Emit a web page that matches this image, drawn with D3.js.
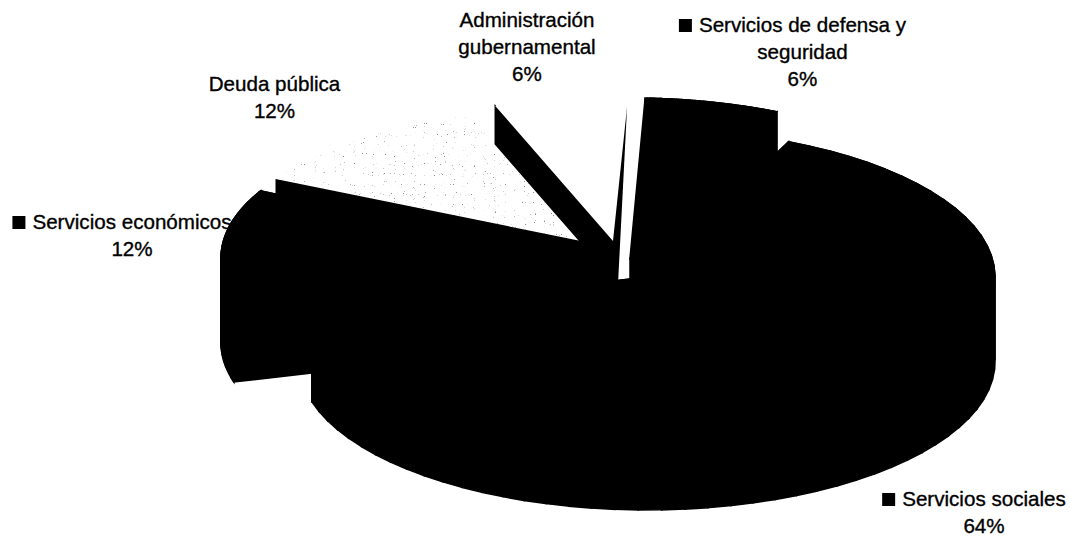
<!DOCTYPE html>
<html>
<head>
<meta charset="utf-8">
<title>Gasto por funciones</title>
<script src="https://cdn.jsdelivr.net/npm/d3@7"></script>
<style>
  html, body { margin: 0; padding: 0; background: #fff; }
  svg { display: block; }
  text { font-family: "Liberation Sans", Arial, sans-serif; font-size: 20.6px; fill: #000; stroke: #000; stroke-width: 0.35px; }
</style>
</head>
<body>
<div id="chart"></div>
<script>
// data
const categories = ["Servicios sociales", "Servicios económicos", "Deuda pública", "Administración gubernamental", "Servicios de defensa y seguridad"];
const shares = [64, 12, 12, 6, 6];
const hasKey = [true, true, false, false, true];

// each slice is pulled out by hand, like the exploded 3d pie in the picture
const firstAngle = 24 * Math.PI / 180;
const sliceApexX = [647, 570, 582, 613, 630];
const sliceApexY = [277, 258, 242, 241, 258];
const sliceRadiusX = [348, 349, 345, 358, 361];
const sliceRadiusY = [148, 145, 134, 143, 160];
const sliceDepth = [85, 85, 40, 38, 48];

// label lines: x, baseline of the first line
const labelLines = [
    ["Servicios sociales"],
    ["Servicios económicos"],
    ["Deuda pública"],
    ["Administración", "gubernamental"],
    ["Servicios de defensa y", "seguridad"]
];
const labelX = [984, 132, 274.5, 527, 802.5];
const labelY = [506, 229, 91, 27, 32];
const lineStep = 27;

const width = 1070, height = 537;

const svg = d3.select("#chart").append("svg")
    .attr("width", width)
    .attr("height", height);

const stipple = svg.append("defs").append("filter")
    .attr("id", "stipple")
    .attr("x", 0).attr("y", 0).attr("width", 1).attr("height", 1)
    .attr("color-interpolation-filters", "sRGB");
stipple.append("feTurbulence")
    .attr("type", "fractalNoise")
    .attr("baseFrequency", 1.1)
    .attr("numOctaves", 1)
    .attr("seed", 4)
    .attr("result", "noise");
stipple.append("feColorMatrix")
    .attr("in", "noise")
    .attr("type", "matrix")
    .attr("values", "0 0 0 0 0.55  0 0 0 0 0.55  0 0 0 0 0.55  14 0 0 0 -9.7")
    .attr("result", "dots");
stipple.append("feComposite")
    .attr("in", "dots")
    .attr("in2", "SourceAlpha")
    .attr("operator", "in");

const pie = d3.pie().sort(null).startAngle(firstAngle).endAngle(firstAngle + 2 * Math.PI);
const arcs = pie(shares);

const slices = arcs.map((a, i) => {
    const x = d3.scaleLinear().domain([-1, 1]).range([sliceApexX[i] - sliceRadiusX[i], sliceApexX[i] + sliceRadiusX[i]]);
    const y = d3.scaleLinear().domain([-1, 1]).range([sliceApexY[i] - sliceRadiusY[i], sliceApexY[i] + sliceRadiusY[i]]);
    const rim = d3.range(0, 61).map(k => {
        const t = a.startAngle + (a.endAngle - a.startAngle) * k / 60;
        return [x(Math.sin(t)), y(-Math.cos(t))];
    });
    return {
        apex: [x(0), y(0)],
        rim: rim,
        depth: sliceDepth[i]
    };
});

const line = d3.line();
const down = (p, d) => [p[0], p[1] + d];

const topFace = s => [s.apex, ...s.rim];
const startFace = s => [s.apex, s.rim[0], down(s.rim[0], s.depth), down(s.apex, s.depth)];
const endFace = s => {
    const last = s.rim[s.rim.length - 1];
    return [s.apex, last, down(last, s.depth), down(s.apex, s.depth)];
};

// black faces get a stroke so no grey seam shows where two of them touch
const addBlack = pts => svg.append("path")
    .attr("d", line(pts) + "Z")
    .attr("fill", "#000")
    .attr("stroke", "#000")
    .attr("stroke-width", 1.5);

const addWhite = pts => svg.append("path")
    .attr("d", line(pts) + "Z")
    .attr("fill", "#fff");

// the curved wall goes on in short pieces, one long path cancels itself where it folds
const addWall = s => {
    svg.append("g").selectAll("path")
        .data(d3.pairs(s.rim))
        .join("path")
        .attr("d", d => line([d[0], d[1], down(d[1], s.depth), down(d[0], s.depth)]) + "Z")
        .attr("fill", "#000")
        .attr("stroke", "#000")
        .attr("stroke-width", 1.5);
};

const [sociales, economicos, deuda, admin, defensa] = slices;

// back slices first
addWall(defensa);
addBlack(endFace(defensa));
addBlack(topFace(defensa));

addWhite(topFace(deuda));
svg.append("path")
    .attr("d", line(topFace(deuda)) + "Z")
    .attr("fill", "#000")
    .attr("filter", "url(#stipple)");
addBlack(startFace(deuda));

// admin top is left white, only its side walls show
addBlack(startFace(admin));
addWhite(topFace(admin));
const adminTip = d3.interpolate(admin.apex, admin.rim[admin.rim.length - 1])(0.94);
svg.append("path")
    .attr("d", line([adminTip, admin.apex, down(admin.apex, admin.depth + 5), [admin.apex[0] + 5, admin.apex[1] + admin.depth + 5]]) + "Z")
    .attr("fill", "#000");

// centre part where the walls meet
addBlack([deuda.apex, down(admin.apex, admin.depth), down(economicos.apex, economicos.depth), economicos.apex]);

addWall(economicos);
addBlack(startFace(economicos));
addBlack(endFace(economicos));
addBlack(topFace(economicos));

addWall(sociales);
addBlack(endFace(sociales));
addBlack(startFace(sociales));
addBlack(topFace(sociales));

// labels
categories.forEach((c, i) => {
    const lines = [...labelLines[i], shares[i] + "%"];
    lines.forEach((t, k) => {
        const label = svg.append("text")
            .attr("x", labelX[i])
            .attr("y", labelY[i] + k * lineStep)
            .attr("text-anchor", "middle")
            .text(t);
        if (k === 0 && hasKey[i]) {
            svg.append("rect")
                .attr("x", label.node().getBBox().x - 20)
                .attr("y", labelY[i] - 13)
                .attr("width", 13)
                .attr("height", 13)
                .attr("fill", "#000");
        }
    });
});
</script>
</body>
</html>
